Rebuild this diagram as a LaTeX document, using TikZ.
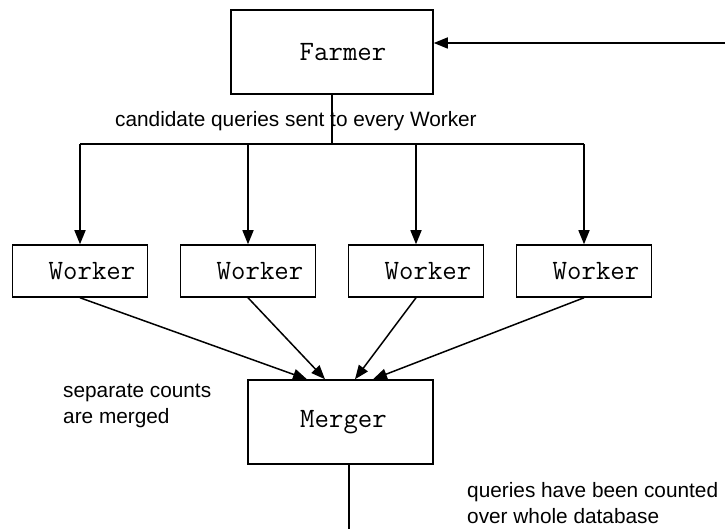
\documentclass[tikz,border=0pt]{standalone}
\usepackage{fontspec}
\setmainfont{Liberation Sans}
\usetikzlibrary{arrows.meta}
\begin{document}
\begin{tikzpicture}[x=1pt,y=-1pt,
  box/.style={draw,line width=1.5pt,inner sep=0pt,font=\ttfamily\fontsize{28}{32}\selectfont},
  workerbox/.style={box,minimum width=135pt,minimum height=52pt},
  lab/.style={inner sep=0pt,anchor=base west,font=\fontsize{20.8}{26}\selectfont},
  conn/.style={line width=1.5pt},
  arr/.style={conn,-{Triangle[length=14pt,width=11pt]}}]
\useasboundingbox (0,0) rectangle (725,529);
\node[box,minimum width=202pt,minimum height=84pt] (farmer) at (332,52) {\hspace*{22pt}Farmer};
\node[workerbox] (w1) at (80,271) {\hspace*{24pt}Worker};
\node[workerbox] (w2) at (248,271) {\hspace*{24pt}Worker};
\node[workerbox] (w3) at (416,271) {\hspace*{24pt}Worker};
\node[workerbox] (w4) at (584,271) {\hspace*{24pt}Worker};
\node[box,minimum width=185pt,minimum height=84pt] (merger) at (340.5,422) {\hspace*{6pt}Merger};
\node[lab] (l1) at (115,127) {candidate queries sent to every Worker};
\node[lab] (l2a) at (63,397) {separate counts};
\node[lab] (l2b) at (63,423) {are merged};
\node[lab] (l3a) at (467,497) {queries have been counted};
\node[lab] (l3b) at (467,523) {over whole database};
\coordinate (ret) at (725,43);
\coordinate (bus) at (332,144);
\coordinate (out) at (349,529);
\draw[arr] (ret) -- (ret -| farmer.east);
\draw[conn] (farmer.south) -- (bus);
\draw[conn] (bus -| w1.north) -- (bus -| w4.north);
\foreach \w in {w1,w2,w3,w4} \draw[arr] (bus -| \w.north) -- (\w.north);
\draw[arr] (w1.south) -- (merger.north -| 307,0);
\draw[arr] (w2.south) -- (merger.north -| 325,0);
\draw[arr] (w3.south) -- (merger.north -| 355,0);
\draw[arr] (w4.south) -- (merger.north -| 373,0);
\draw[conn] (merger.south -| out) -- (out);
\end{tikzpicture}
\end{document}
